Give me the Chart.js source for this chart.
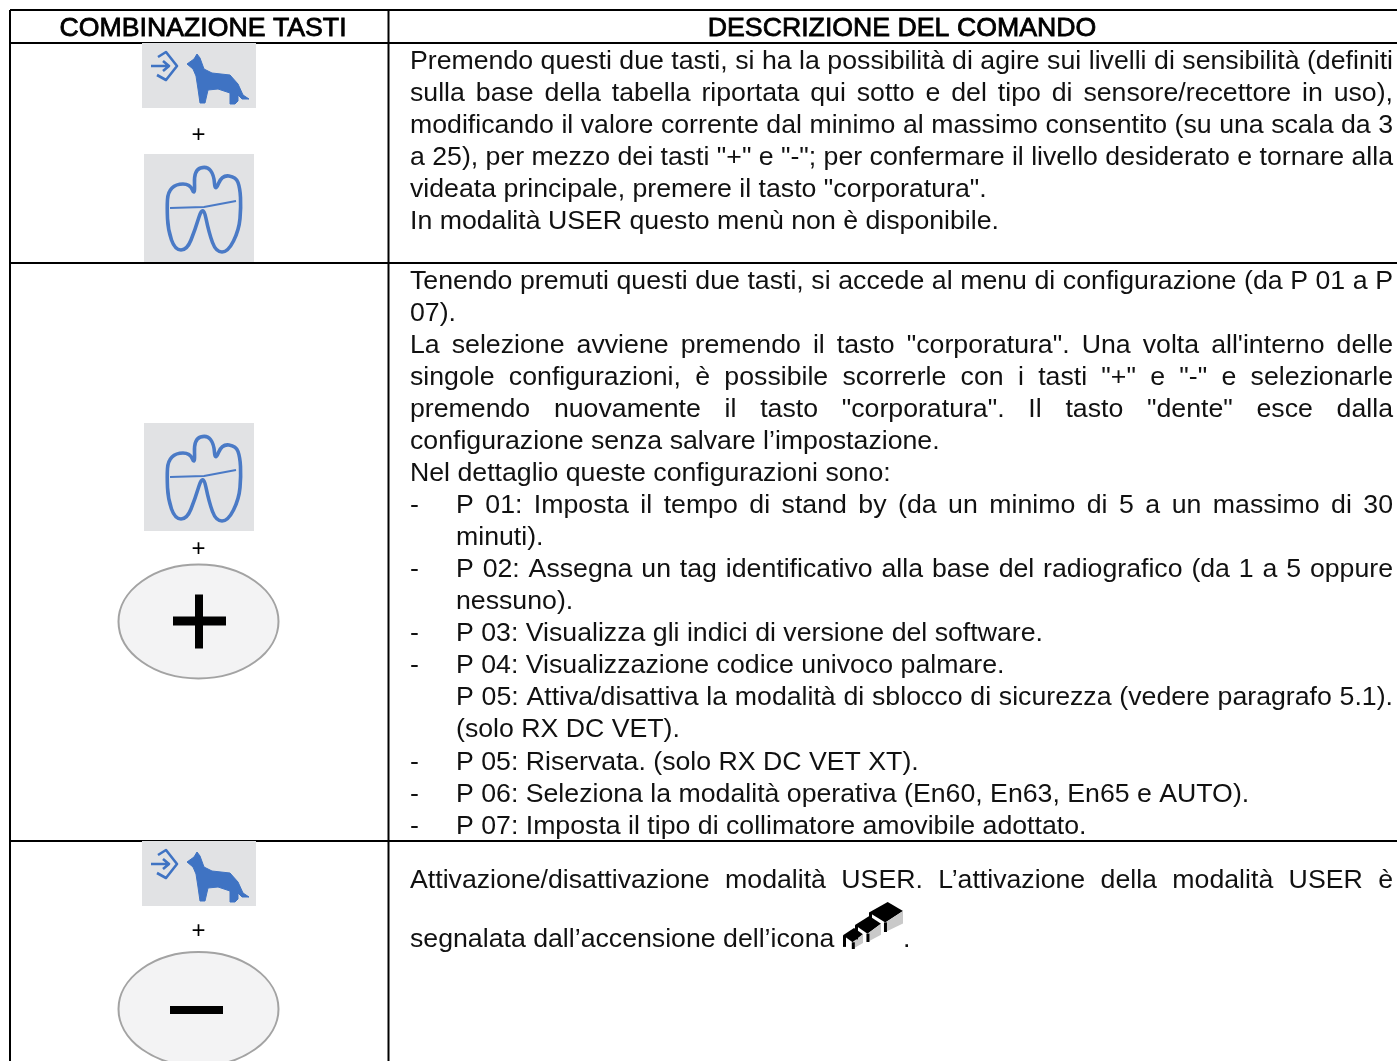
<!DOCTYPE html>
<html lang="it">
<head>
<meta charset="utf-8">
<title>Combinazione tasti</title>
<script src="https://cdn.jsdelivr.net/npm/chart.js@4"></script>
<style>
  html, body { margin: 0; padding: 0; background: #fff; overflow: hidden; }
  canvas { display: block; }
</style>
</head>
<body>
<canvas id="chart" width="1397" height="1061"></canvas>
<script>
const columnHeaders = ['COMBINAZIONE TASTI', 'DESCRIZIONE DEL COMANDO'];
const rowEdges = [10, 43, 263, 841];
const columnEdges = [10, 388.5];

// "- " = trattino + rientro, "  " = solo rientro
const sensitivityLines = [
  'Premendo questi due tasti, si ha la possibilità di agire sui livelli di sensibilità (definiti',
  'sulla base della tabella riportata qui sotto e del tipo di sensore/recettore in uso),',
  'modificando il valore corrente dal minimo al massimo consentito (su una scala da 3',
  'a 25), per mezzo dei tasti "+" e "-"; per confermare il livello desiderato e tornare alla',
  'videata principale, premere il tasto "corporatura".',
  'In modalità USER questo menù non è disponibile.',
];
const configLines = [
  'Tenendo premuti questi due tasti, si accede al menu di configurazione (da P 01 a P',
  '07).',
  'La selezione avviene premendo il tasto "corporatura". Una volta all\'interno delle',
  'singole configurazioni, è possibile scorrerle con i tasti "+" e "-" e selezionarle',
  'premendo nuovamente il tasto "corporatura". Il tasto "dente" esce dalla',
  'configurazione senza salvare l’impostazione.',
  'Nel dettaglio queste configurazioni sono:',
  '- P 01: Imposta il tempo di stand by (da un minimo di 5 a un massimo di 30',
  '  minuti).',
  '- P 02: Assegna un tag identificativo alla base del radiografico (da 1 a 5 oppure',
  '  nessuno).',
  '- P 03: Visualizza gli indici di versione del software.',
  '- P 04: Visualizzazione codice univoco palmare.',
  '  P 05: Attiva/disattiva la modalità di sblocco di sicurezza (vedere paragrafo 5.1).',
  '  (solo RX DC VET).',
  '- P 05: Riservata. (solo RX DC VET XT).',
  '- P 06: Seleziona la modalità operativa (En60, En63, En65 e AUTO).',
  '- P 07: Imposta il tipo di collimatore amovibile adottato.',
];
const userLines = [
  'Attivazione/disattivazione modalità USER. L’attivazione della modalità USER è',
  'segnalata dall’accensione dell’icona',
];

const INK = '#111';
const BLUE = '#3f73c3';
const KEY_GREY = '#e1e2e4';
const FONT = '"Liberation Sans", Arial, sans-serif';
const BODY_SIZE = 26.7;

function writeLine(ctx, line, y) {
  let x = 410;
  let text = line;
  if (line.startsWith('- ')) {
    ctx.fillText('-', 410, y);
    x = 456;
    text = line.slice(2);
  } else if (line.startsWith('  ')) {
    x = 456;
    text = line.slice(2);
  }
  const last = text[text.length - 1];
  const justify = (last !== '.' && last !== ':' && text !== userLines[1]) || text.includes('paragrafo 5.1');
  ctx.wordSpacing = '0px';
  if (justify) {
    const gaps = text.split(' ').length - 1;
    ctx.wordSpacing = (1393 - x - ctx.measureText(text).width) / gaps + 'px';
  }
  ctx.fillText(text, x, y);
  ctx.wordSpacing = '0px';
}

// dog + "enter" arrow key, coordinates are relative to the key's box
function drawDogKey(ctx, left, top) {
  ctx.save();
  ctx.translate(left, top);
  ctx.fillStyle = KEY_GREY;
  ctx.fillRect(0, 0, 114, 65);
  ctx.strokeStyle = BLUE;
  ctx.lineWidth = 2.6;
  ctx.lineJoin = 'round';
  ctx.beginPath();
  ctx.moveTo(9, 23); ctx.lineTo(26, 23);
  ctx.moveTo(21, 18); ctx.lineTo(27, 23); ctx.lineTo(21, 28);
  ctx.moveTo(16, 14); ctx.lineTo(24, 9); ctx.lineTo(35, 23); ctx.lineTo(24, 37); ctx.lineTo(15, 32);
  ctx.stroke();
  const dog = [[45, 21], [52, 16], [55, 11], [58, 15], [62, 26], [70, 30], [88, 32], [96, 41], [101, 52], [107, 56], [100, 56], [96, 52], [96, 58], [93, 61], [88, 61], [88, 50], [76, 46], [66, 47], [63, 60], [58, 60], [56, 46], [54, 33], [51, 26]];
  ctx.fillStyle = BLUE;
  ctx.strokeStyle = BLUE;
  ctx.lineWidth = 1;
  ctx.beginPath();
  dog.forEach(([x, y], i) => (i ? ctx.lineTo(x, y) : ctx.moveTo(x, y)));
  ctx.closePath();
  ctx.fill();
  ctx.stroke();
  ctx.restore();
}

function drawToothKey(ctx, left, top) {
  const outline = [[23, 53], [24, 38], [32, 30], [46, 30], [51, 42], [50, 16], [63, 12], [70, 21], [71, 38], [78, 21], [92, 23], [96, 34], [97, 53], [95, 76], [84, 98], [72, 98], [65, 79], [59, 50], [51, 76], [43, 96], [31, 96], [24, 76]];
  ctx.save();
  ctx.translate(left, top);
  ctx.fillStyle = KEY_GREY;
  ctx.fillRect(0, 0, 110, 108);
  ctx.strokeStyle = '#4a7ac6';
  ctx.lineWidth = 3.6;
  ctx.lineJoin = 'round';
  ctx.beginPath();
  const mid = (a, b) => [(a[0] + b[0]) / 2, (a[1] + b[1]) / 2];
  const start = mid(outline[outline.length - 1], outline[0]);
  ctx.moveTo(start[0], start[1]);
  outline.forEach((p, i) => {
    const m = mid(p, outline[(i + 1) % outline.length]);
    ctx.quadraticCurveTo(p[0], p[1], m[0], m[1]);
  });
  ctx.closePath();
  ctx.stroke();
  ctx.lineWidth = 1.8;
  ctx.beginPath();
  ctx.moveTo(26, 54);
  ctx.lineTo(60, 53);
  ctx.lineTo(92, 47);
  ctx.stroke();
  ctx.restore();
}

function drawRoundKey(ctx, cy, sign) {
  ctx.save();
  ctx.fillStyle = '#f3f3f4';
  ctx.strokeStyle = '#a3a3a3';
  ctx.lineWidth = 2;
  ctx.beginPath();
  ctx.ellipse(198.5, cy, 80, 57, 0, 0, Math.PI * 2);
  ctx.fill();
  ctx.stroke();
  ctx.fillStyle = '#000';
  if (sign === '+') {
    ctx.fillRect(173, cy - 5, 53, 9);
    ctx.fillRect(195, cy - 27, 8, 54);
  } else {
    ctx.fillRect(170, cy - 3, 53, 8);
  }
  ctx.restore();
}

function drawStepsIcon(ctx, left, top) {
  const step = (x, y, w, h) => {
    ctx.fillStyle = '#000';
    ctx.beginPath();
    ctx.moveTo(x, y + h * 0.35);
    ctx.lineTo(x + w * 0.55, y);
    ctx.lineTo(x + w, y + h * 0.3);
    ctx.lineTo(x + w * 0.48, y + h * 0.68);
    ctx.closePath();
    ctx.fill();
    ctx.fillStyle = '#c9c9c9';
    ctx.beginPath();
    ctx.moveTo(x + w * 0.48, y + h * 0.68);
    ctx.lineTo(x + w, y + h * 0.3);
    ctx.lineTo(x + w, y + h * 0.72);
    ctx.lineTo(x + w * 0.48, y + h);
    ctx.closePath();
    ctx.fill();
    ctx.fillStyle = '#000';
    ctx.fillRect(x, y + h * 0.35, 3, h * 0.55);
    ctx.fillRect(x + w * 0.44, y + h * 0.68, 3, h * 0.32);
  };
  ctx.save();
  ctx.translate(left, top);
  step(0, 26, 20, 21);
  step(12, 14, 26, 26);
  step(26, 0, 34, 30);
  ctx.restore();
}

const tablePlugin = {
  id: 'tablePlugin',
  afterDatasetsDraw(chart) {
    const { ctx } = chart;
    const px = (v) => chart.scales.x.getPixelForValue(v);
    const py = (v) => chart.scales.y.getPixelForValue(v);
    ctx.save();
    ctx.textBaseline = 'alphabetic';
    ctx.fillStyle = '#000';

    // header: thin outline on top, like the scanned original
    ctx.font = `${BODY_SIZE}px ${FONT}`;
    ctx.textAlign = 'center';
    ctx.strokeStyle = '#000';
    ctx.lineWidth = 0.8;
    [203, 902].forEach((cx, i) => {
      ctx.fillText(columnHeaders[i], px(cx), py(36));
      ctx.strokeText(columnHeaders[i], px(cx), py(36));
    });

    ctx.font = `24px ${FONT}`;
    [142, 556, 938].forEach((y) => ctx.fillText('+', px(198.5), py(y)));

    ctx.textAlign = 'left';
    ctx.font = `${BODY_SIZE}px ${FONT}`;
    ctx.fillStyle = INK;
    sensitivityLines.forEach((line, i) => writeLine(ctx, line, py(69 + i * 32)));
    // the original slips one pixel from the second "P 05" line on
    configLines.forEach((line, i) => writeLine(ctx, line, py(289 + i * 32 + (i >= 15 ? 1 : 0))));
    writeLine(ctx, userLines[0], py(888));
    writeLine(ctx, userLines[1], py(947));
    ctx.fillText('.', px(903), py(947));
    ctx.restore();

    drawDogKey(ctx, 142, 43);
    drawToothKey(ctx, 144, 154);
    drawToothKey(ctx, 144, 423);
    drawRoundKey(ctx, 621.5, '+');
    drawDogKey(ctx, 142, 841);
    drawRoundKey(ctx, 1009, '-');
    drawStepsIcon(ctx, 843, 902);
  },
};

const ruleStyle = { borderColor: '#000', borderWidth: 2, pointRadius: 0, showLine: true, fill: false };
const rules = [
  ...rowEdges.map((y) => ({ ...ruleStyle, data: [{ x: columnEdges[0], y }, { x: 1397, y }] })),
  ...columnEdges.map((x) => ({ ...ruleStyle, data: [{ x, y: rowEdges[0] }, { x, y: 1061 }] })),
];

new Chart(document.getElementById('chart'), {
  type: 'scatter',
  data: { datasets: rules },
  plugins: [tablePlugin],
  options: {
    responsive: false,
    animation: false,
    layout: { padding: 0 },
    plugins: { legend: { display: false }, tooltip: { enabled: false } },
    scales: {
      x: { type: 'linear', display: false, min: 0, max: 1397 },
      y: { type: 'linear', display: false, min: 0, max: 1061, reverse: true },
    },
  },
});
</script>
</body>
</html>
